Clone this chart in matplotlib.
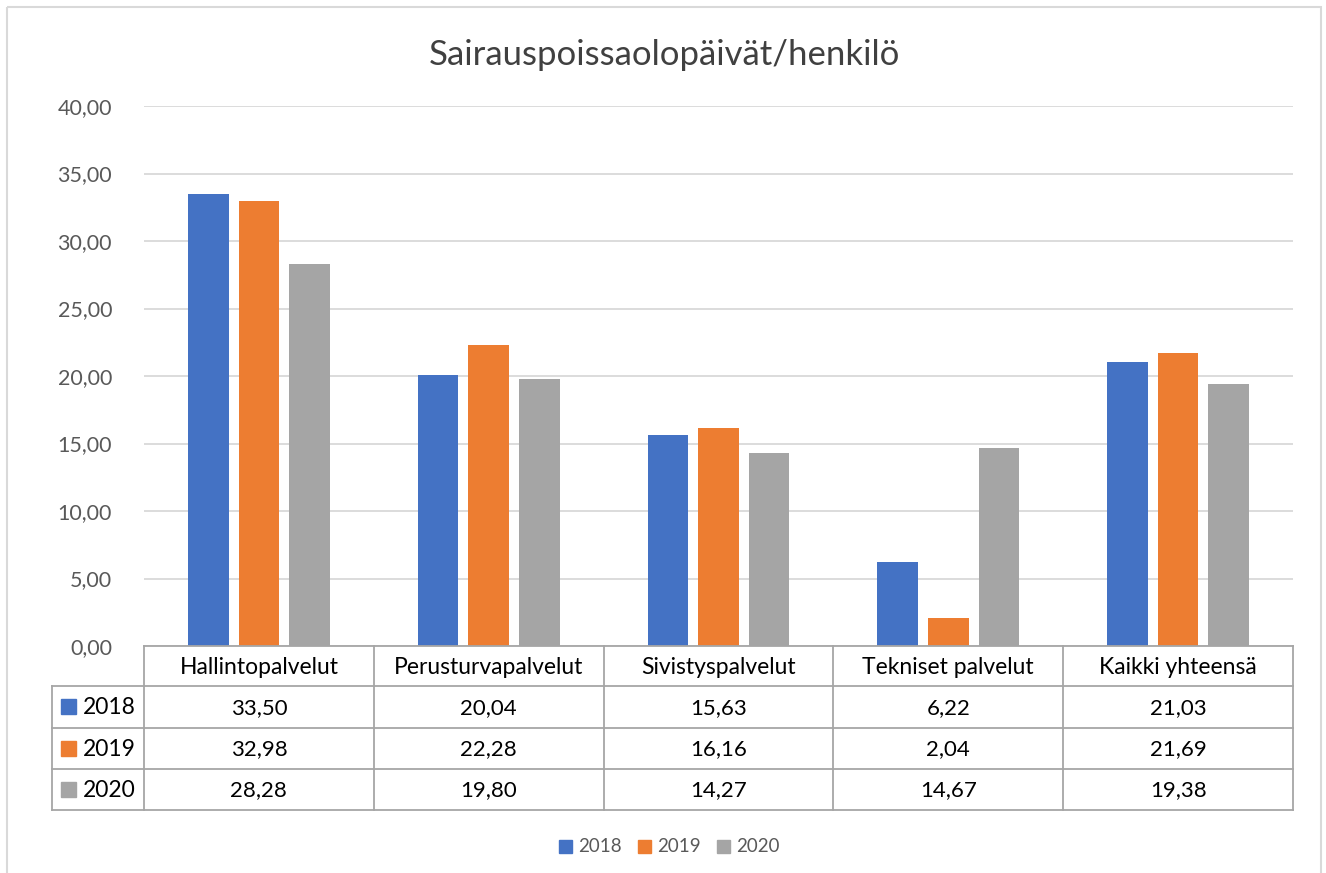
import matplotlib
matplotlib.use("Agg")
import matplotlib.pyplot as plt
from matplotlib.patches import Rectangle

plt.rcParams["font.family"] = ["Lato", "DejaVu Sans"]

# ---- data ----
categories = ["Hallintopalvelut", "Perusturvapalvelut", "Sivistyspalvelut",
              "Tekniset palvelut", "Kaikki yhteensä"]
years = ["2018", "2019", "2020"]
v2018 = [33.50, 20.04, 15.63, 6.22, 21.03]
v2019 = [32.98, 22.28, 16.16, 2.04, 21.69]
v2020 = [28.28, 19.80, 14.27, 14.67, 19.38]
series = [v2018, v2019, v2020]
colors = ["#4472C4", "#ED7D31", "#A5A5A5"]
yticks = [0, 5, 10, 15, 20, 25, 30, 35, 40]
title = "Sairauspoissaolopäivät/henkilö"

W, H = 1326, 873
fig = plt.figure(figsize=(W / 100, H / 100), dpi=100)

# plot area in pixels
L, R, T, B = 144, 1293, 106, 646
ax = fig.add_axes([L / W, 1 - B / H, (R - L) / W, (B - T) / H])
n = len(categories)
for j, (vals, c) in enumerate(zip(series, colors)):
    ax.bar([i + (j - 1) * 0.22 for i in range(n)], vals, width=0.177, color=c, zorder=3)
ax.set_xlim(-0.5, n - 0.5)
ax.set_ylim(0, 40)
ax.set_yticks(yticks)
ax.set_yticklabels([f"{t:.2f}".replace(".", ",") for t in yticks], fontsize=15.5, color="#595959")
ax.set_xticks([])
ax.grid(axis="y", color="#D9D9D9", lw=1.3, zorder=0)
ax.tick_params(axis="y", length=0, pad=23)
for s in ax.spines.values():
    s.set_visible(False)

# overlay in pixel coordinates for table, border, title, legend
ov = fig.add_axes([0, 0, 1, 1], zorder=-1)
ov.set_xlim(0, W)
ov.set_ylim(H, 0)
ov.axis("off")
ov.add_patch(Rectangle((7, 7), 1314, 900, fill=False, ec="#D9D9D9", lw=1.5))

top = fig.add_axes([0, 0, 1, 1], zorder=5)
top.set_xlim(0, W)
top.set_ylim(H, 0)
top.axis("off")
top.patch.set_alpha(0)

top.text(W / 2 + 1, 55, title, ha="center", va="center", fontsize=25, color="#404040")

lc, lw = "#A6A6A6", 1.3
colw = (R - L) / n
rows = [646, 686, 728, 769, 810]
lab_x = 52
# horizontal lines
top.plot([L, R], [rows[0], rows[0]], color=lc, lw=lw)
for y in rows[1:]:
    top.plot([lab_x, R], [y, y], color=lc, lw=lw)
# vertical lines
top.plot([lab_x, lab_x], [rows[1], rows[-1]], color=lc, lw=lw)
for i in range(n + 1):
    x = L + i * colw
    top.plot([x, x], [rows[0], rows[-1]], color=lc, lw=lw)

for i, cat in enumerate(categories):
    cx = L + (i + 0.5) * colw
    top.text(cx, (rows[0] + rows[1]) / 2 + 1, cat, ha="center", va="center", fontsize=16.5, color="black")
    for j, vals in enumerate(series):
        top.text(cx, (rows[j + 1] + rows[j + 2]) / 2 + 1, f"{vals[i]:.2f}".replace(".", ","),
                 ha="center", va="center", fontsize=16, color="black")

for j, (yr, c) in enumerate(zip(years, colors)):
    yc = (rows[j + 1] + rows[j + 2]) / 2
    top.add_patch(Rectangle((61, yc - 8), 15, 15, color=c))
    top.text(83, yc + 1, yr, ha="left", va="center", fontsize=16.5, color="black")

# bottom legend
leg_x = [559, 638, 717]
for x, yr, c in zip(leg_x, years, colors):
    top.add_patch(Rectangle((x, 840), 13, 13, color=c))
    top.text(x + 19, 847, yr, ha="left", va="center", fontsize=13.5, color="#595959")

fig.savefig("out.png", dpi=100)
